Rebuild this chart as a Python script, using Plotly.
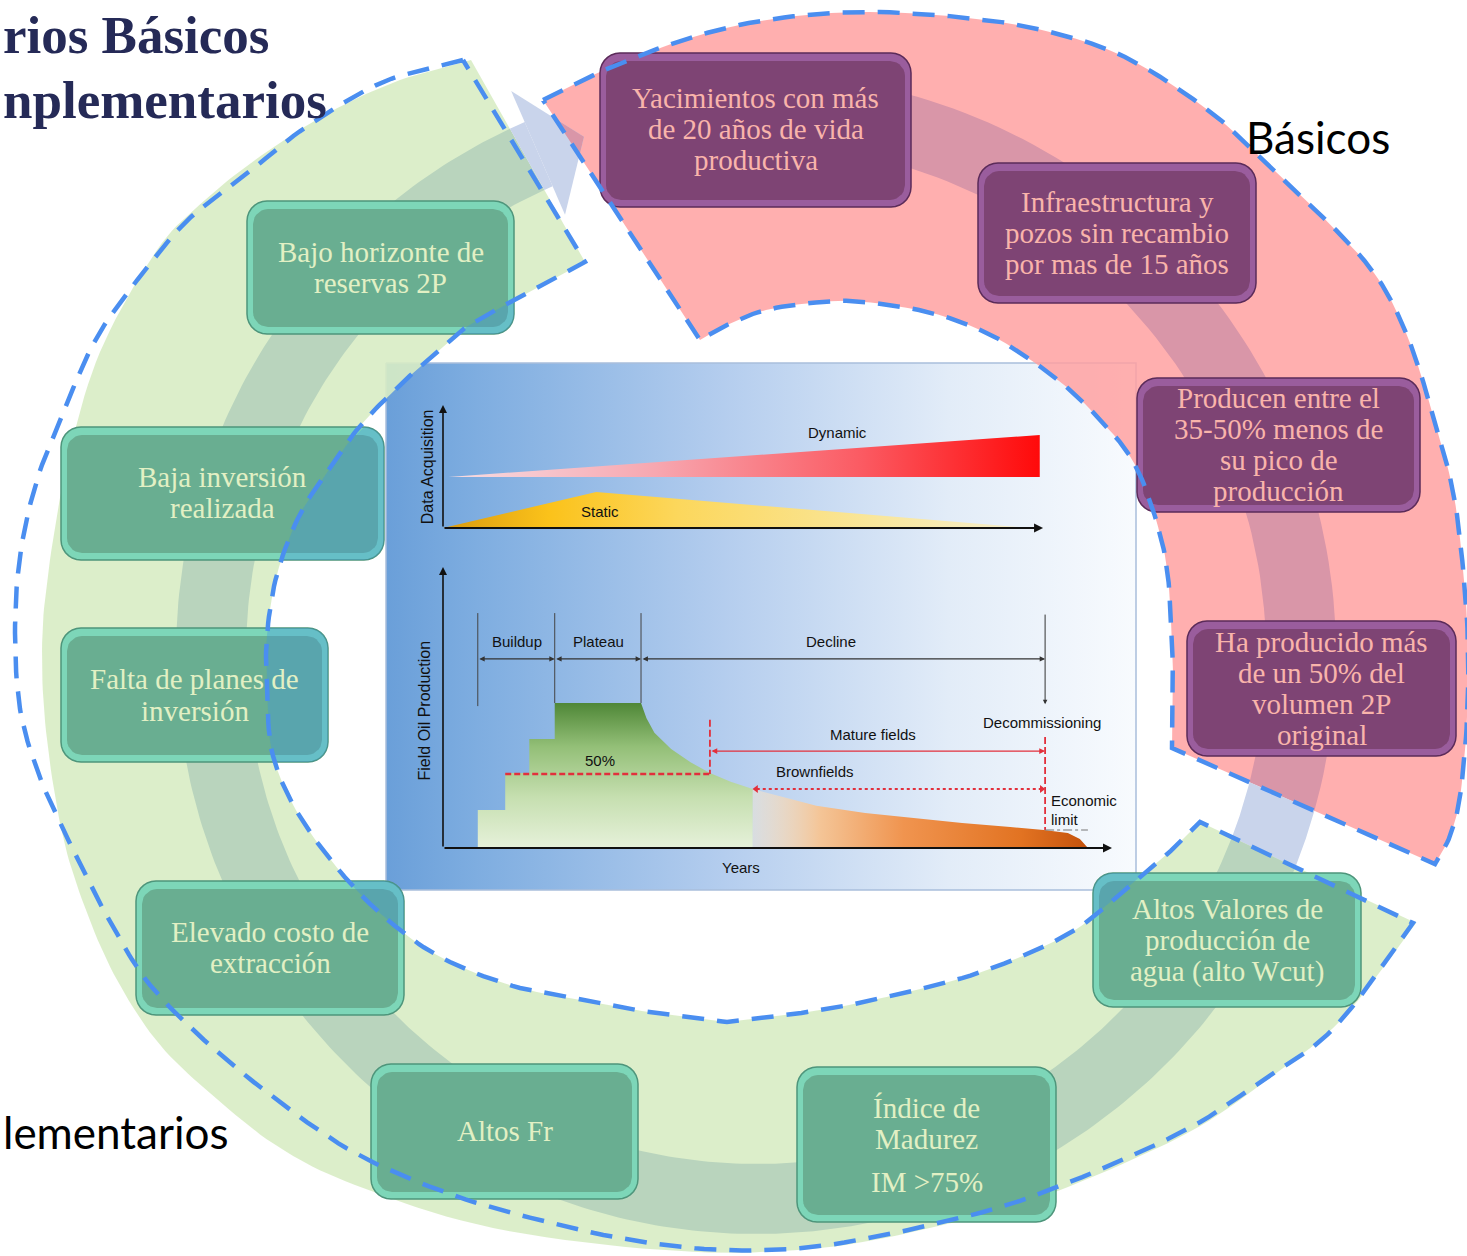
import numpy as np
import plotly.graph_objects as go

W, H = 1467, 1256

# ======================= DATA =======================
# visible parts of the title and group labels (the slide crops them at the left edge)
title_lines = ["rios Básicos", "nplementarios"]
group_labels = ["Básicos", "lementarios"]

basic_texts = [
    ["Yacimientos con más", "de 20 años de vida", "productiva"],
    ["Infraestructura y", "pozos sin recambio", "por mas de 15 años"],
    ["Producen entre el", "35-50% menos de", "su pico de", "producción"],
    ["Ha producido más", "de un 50% del", "volumen 2P", "original"],
]
comp_texts = [
    ["Bajo horizonte de", "reservas 2P"],
    ["Baja inversión", "realizada"],
    ["Falta de planes de", "inversión"],
    ["Elevado costo de", "extracción"],
    ["Altos Fr"],
    ["Índice de", "Madurez", "IM >75%"],
    ["Altos Valores de", "producción de", "agua (alto Wcut)"],
]

# inner chart - field life (0-100 along "Years") vs production (0-100 of axis)
green_years = [5.2, 5.2, 9.3, 9.3, 12.9, 12.9, 16.7, 16.7, 29.6, 30.0, 30.4, 31.6,
               34.1, 37.0, 39.9, 43.0, 46.3, 46.3]
green_rate = [0, 13.5, 13.5, 26.7, 26.7, 38.8, 38.8, 51.6, 51.6, 49.0, 46.3, 41.0,
              35.2, 30.5, 26.7, 23.6, 21.0, 0]
brown_years = [46.3, 50.7, 55.8, 63.1, 70.3, 77.6, 84.8, 89.8, 93.4, 95.2, 96.4]
brown_rate = [21.0, 18.2, 15.0, 12.5, 10.7, 8.9, 7.5, 6.4, 5.3, 3.2, 0]
static_years = [0, 22.9, 87.7]
static_level = [0, 29.3, 0]
dynamic_years = [0.8, 89.2]
dynamic_top = [41.5, 75.6]
dynamic_base = 41.5
phase_bounds = [5.2, 16.7, 29.6, 90.0]
phase_names = ["Buildup", "Plateau", "Decline"]
half_peak_rate = 26.3
mature_start, brown_start, decom_year = 39.9, 46.3, 90.0
econ_limit_rate = 6.4

# ======================= GEOMETRY (layout only) =======================
def catmull(pts, n=10):
    P = np.array(pts, float)
    P = np.vstack([P[0], P, P[-1]])
    out = []
    for i in range(1, len(P) - 2):
        p0, p1, p2, p3 = P[i - 1], P[i], P[i + 1], P[i + 2]
        for t in np.linspace(0, 1, n, endpoint=False):
            t2, t3 = t * t, t * t * t
            out.append(0.5 * ((2 * p1) + (-p0 + p2) * t + (2 * p0 - 5 * p1 + 4 * p2 - p3) * t2
                              + (-p0 + 3 * p1 - 3 * p2 + p3) * t3))
    out.append(P[-2])
    return [tuple(p) for p in out]

pink_outer = [(543, 100), (600, 72), (683, 40), (766, 20), (860, 12), (959, 17), (1042, 30),
              (1125, 57), (1208, 110), (1263, 160), (1319, 213), (1374, 273), (1407, 335),
              (1433, 415), (1453, 491), (1463, 568), (1468, 644), (1467, 721), (1460, 797),
              (1450, 836), (1435, 864)]
pink_inner = [(1172, 748), (1173, 690), (1172, 644), (1167, 568), (1153, 510), (1133, 461),
              (1105, 425), (1070, 390), (1031, 360), (987, 333), (932, 313), (865, 302),
              (821, 302), (766, 310), (727, 325), (700, 340)]
green_fill_outer = [(471, 60), (400, 80), (330, 112), (262, 155), (205, 200), (157, 250),
                    (100, 352), (67, 464), (47, 582), (42, 658), (47, 740), (63, 837), (87, 913),
                    (117, 980), (160, 1045), (218, 1100), (280, 1148), (355, 1185), (493, 1228),
                    (677, 1251), (821, 1248), (943, 1225), (1042, 1197), (1180, 1137),
                    (1263, 1083), (1341, 1020), (1416, 923)]
green_dash_outer = [(463, 60), (383, 82), (306, 127), (249, 172), (191, 217), (153, 260),
                    (100, 332), (67, 403), (37, 480), (20, 556), (15, 633), (20, 709), (37, 770),
                    (57, 816), (87, 878), (117, 934), (150, 985), (204, 1040), (277, 1100),
                    (355, 1153), (447, 1193), (539, 1220), (631, 1240), (723, 1250), (821, 1246),
                    (943, 1222), (1042, 1193), (1180, 1133), (1263, 1080), (1335, 1027),
                    (1413, 923)]
green_inner_a = [(1200, 822), (1175, 847), (1125, 890), (1070, 933), (987, 970), (904, 993),
                 (821, 1010), (727, 1022)]
green_inner_b = [(727, 1022), (655, 1013), (600, 1003), (520, 988), (450, 962), (400, 930),
                 (350, 883), (300, 817), (273, 756), (267, 690), (267, 635), (277, 574),
                 (300, 514), (330, 468), (360, 426), (400, 385), (450, 341), (478, 320),
                 (585, 262)]

pink_poly = catmull(pink_outer) + catmull(pink_inner)
green_inner = catmull(green_inner_a) + catmull(green_inner_b)[1:]
green_poly = catmull(green_fill_outer) + green_inner
green_dash = catmull(green_dash_outer) + green_inner

# band (circular arrow)
BC = np.array([756.0, 654.0])
R_OUT, R_IN = 580.0, 510.0

def circ(R, th):
    t = np.radians(th)
    return BC + R * np.array([np.cos(t), np.sin(t)])

def cross_theta(R, A, B, lo, hi):
    A = np.array(A, float); B = np.array(B, float)
    def f(th):
        p = circ(R, th)
        return (B[0] - A[0]) * (p[1] - A[1]) - (B[1] - A[1]) * (p[0] - A[0])
    flo = f(lo)
    for _ in range(60):
        mid = 0.5 * (lo + hi)
        fm = f(mid)
        if np.sign(fm) == np.sign(flo):
            lo, flo = mid, fm
        else:
            hi = mid
    return 0.5 * (lo + hi)

def band_piece(to0, to1, ti0, ti1, n=90):
    outer = [tuple(circ(R_OUT, t)) for t in np.linspace(to0, to1, n)]
    inner = [tuple(circ(R_IN, t)) for t in np.linspace(ti1, ti0, n)]
    return outer + inner

pink_end = ((1435, 864), (1172, 748))
green_start = ((1413, 923), (1200, 822))
green_end = ((471, 60), (585, 262))
pink_start = ((543, 100), (700, 340))
TAIL, BASE, TIP = -95.0, 246.5, 251.6

po = cross_theta(R_OUT, *pink_end, 0, 30); pi_ = cross_theta(R_IN, *pink_end, 0, 30)
go_ = cross_theta(R_OUT, *green_start, 5, 40); gi = cross_theta(R_IN, *green_start, 5, 40)
eo = cross_theta(R_OUT, *green_end, 225, 260); ei = cross_theta(R_IN, *green_end, 225, 260)

# ======================= HELPERS =======================
def clip_poly(subject, clip):
    def area(p):
        return sum(p[i][0] * p[(i + 1) % len(p)][1] - p[(i + 1) % len(p)][0] * p[i][1]
                   for i in range(len(p)))
    sgn = 1 if area(clip) > 0 else -1
    def inside(p, a, b):
        return sgn * ((b[0] - a[0]) * (p[1] - a[1]) - (b[1] - a[1]) * (p[0] - a[0])) >= 0
    def inter(p, q, a, b):
        x1, y1 = p; x2, y2 = q; x3, y3 = a; x4, y4 = b
        den = (x1 - x2) * (y3 - y4) - (y1 - y2) * (x3 - x4)
        t = ((x1 - x3) * (y3 - y4) - (y1 - y3) * (x3 - x4)) / den
        return (x1 + t * (x2 - x1), y1 + t * (y2 - y1))
    out = list(subject)
    for i in range(len(clip)):
        a, b = clip[i], clip[(i + 1) % len(clip)]
        if a == b:
            continue
        inp, out = out, []
        if not inp:
            break
        s = inp[-1]
        for e in inp:
            if inside(e, a, b):
                if not inside(s, a, b):
                    out.append(inter(s, e, a, b))
                out.append(e)
            elif inside(s, a, b):
                out.append(inter(s, e, a, b))
            s = e
    return out

def rrect(x0, y0, x1, y1, r, n=8):
    pts = []
    for cx, cy, a0, a1 in [(x1 - r, y0 + r, -90, 0), (x1 - r, y1 - r, 0, 90),
                           (x0 + r, y1 - r, 90, 180), (x0 + r, y0 + r, 180, 270)]:
        for a in np.radians(np.linspace(a0, a1, n)):
            pts.append((cx + r * np.cos(a), cy + r * np.sin(a)))
    return pts

fig = go.Figure()

def poly(pts, fill=None, line=None, lw=0, dash=None, **kw):
    x = [p[0] for p in pts] + [pts[0][0]]
    y = [p[1] for p in pts] + [pts[0][1]]
    fig.add_trace(go.Scatter(
        x=x, y=y, mode="lines", fill="toself" if (fill or kw.get("fillgradient")) else "none",
        fillcolor=fill, line=dict(color=line or "rgba(0,0,0,0)", width=lw, dash=dash),
        hoverinfo="skip", showlegend=False, **kw))

# ======================= DRAWING =======================
CH = (386, 363, 1136, 890)
poly([(CH[0], CH[1]), (CH[2], CH[1]), (CH[2], CH[3]), (CH[0], CH[3])],
     line="#a9bedb", lw=1.5,
     fillgradient=dict(type="horizontal",
                       colorscale=[[0, "#6a9fd9"], [0.12, "#7eade0"], [0.45, "#b4cdee"],
                                   [0.75, "#e2ecf8"], [1, "#f8fbfe"]]))

poly(green_poly, fill="rgba(216,236,196,0.9)")
poly(pink_poly, fill="rgba(255,160,160,0.84)")

BAND_PINK, BAND_GAP, BAND_GREEN = "#d996a8", "#c9d4eb", "#b9d4bd"
poly(band_piece(TAIL, po, TAIL, pi_), fill=BAND_PINK)
poly(band_piece(po, go_, pi_, gi), fill=BAND_GAP)
poly(band_piece(go_, eo, gi, ei, n=300), fill=BAND_GREEN)
poly(band_piece(eo, BASE, ei, BASE, n=10), fill=BAND_GAP)
arrow = [tuple(circ(614, BASE)), tuple(circ(545, TIP)), tuple(circ(479, BASE))]
poly(arrow, fill=BAND_GAP)
(ax_, ay_), (bx_, by_) = pink_start
dxp, dyp = bx_ - ax_, by_ - ay_
half_plane = [(ax_ - 3 * dxp, ay_ - 3 * dyp), (3000, -3000), (3000, 3000), (bx_ + 3 * dxp, by_ + 3 * dyp)]
arrow_pink = clip_poly(arrow, half_plane)
if len(arrow_pink) >= 3:
    poly(arrow_pink, fill=BAND_PINK)

basic_layout = [
    dict(x0=600, y0=53, x1=911, y1=207, ly=[98, 129, 160]),
    dict(x0=978, y0=163, x1=1256, y1=303, ly=[202, 233, 264]),
    dict(x0=1137, y0=378, x1=1420, y1=512, ly=[398, 429, 460, 491]),
    dict(x0=1187, y0=621, x1=1456, y1=756, ly=[642, 673, 704, 735]),
]
comp_layout = [
    dict(x0=247, y0=201, x1=514, y1=334, ly=[252, 283]),
    dict(x0=61, y0=427, x1=384, y1=560, ly=[477, 508]),
    dict(x0=61, y0=628, x1=328, y1=762, ly=[679, 711]),
    dict(x0=136, y0=881, x1=404, y1=1015, ly=[932, 963]),
    dict(x0=371, y0=1064, x1=638, y1=1199, ly=[1131]),
    dict(x0=797, y0=1067, x1=1056, y1=1222, ly=[1108, 1139, 1182]),
    dict(x0=1093, y0=873, x1=1361, y1=1007, ly=[909, 940, 971]),
]

interior = green_inner + [(900, 230), (1150, 350), (1250, 600)]

annotations = []

def draw_box(b, border, bevel, main, tint=False):
    outer = rrect(b["x0"], b["y0"], b["x1"], b["y1"], 20)
    poly(outer, fill=bevel, line=border, lw=1.5)
    poly(rrect(b["x0"] + 6, b["y0"] + 8, b["x1"] - 6, b["y1"] - 7, 15), fill=main)
    if tint:
        part = clip_poly(outer, interior)
        if len(part) >= 3:
            poly(part, fill="rgba(60,150,225,0.35)")

for b, lines in zip(basic_layout, basic_texts):
    draw_box(b, "#5b2b59", "#9a5d9d", "#7e4474")
    for t, yy in zip(lines, b["ly"]):
        annotations.append(dict(x=(b["x0"] + b["x1"]) / 2, y=yy, text=t, showarrow=False,
                                xref="x", yref="y", xanchor="center", yanchor="middle",
                                font=dict(family="Liberation Serif, serif", size=29, color="#f9b4ab")))
for b, lines in zip(comp_layout, comp_texts):
    draw_box(b, "#4e957b", "#7dd6b8", "#69ae91", tint=True)
    for t, yy in zip(lines, b["ly"]):
        annotations.append(dict(x=(b["x0"] + b["x1"]) / 2, y=yy, text=t, showarrow=False,
                                xref="x", yref="y", xanchor="center", yanchor="middle",
                                font=dict(family="Liberation Serif, serif", size=29, color="#e2f0c4")))

DASH = dict(line="#4a8ef0", lw=4.5, dash="22px,13px")
poly(green_dash, **DASH)
poly(pink_poly, **DASH)

annotations += [
    dict(x=1, y=35, text=title_lines[0], xanchor="left", yanchor="middle",
         font=dict(family="Liberation Serif, serif", size=53, color="#252a57", weight="bold")),
    dict(x=1, y=100, text=title_lines[1], xanchor="left", yanchor="middle",
         font=dict(family="Liberation Serif, serif", size=53, color="#252a57", weight="bold")),
    dict(x=1318, y=137, text=group_labels[0], xanchor="center", yanchor="middle",
         font=dict(family="Lato, sans-serif", size=44, color="#000000")),
    dict(x=1, y=1132, text=group_labels[1], xanchor="left", yanchor="middle",
         font=dict(family="Lato, sans-serif", size=44, color="#000000")),
]
for a in annotations[-4:]:
    a.update(showarrow=False, xref="x", yref="y")

# ---------------- inner chart: production profile (x2/y2) ----------------
fig.add_trace(go.Scatter(
    x=green_years, y=green_rate, xaxis="x2", yaxis="y2", mode="lines", fill="toself",
    line=dict(width=0, color="rgba(0,0,0,0)"), hoverinfo="skip", showlegend=False,
    fillgradient=dict(type="vertical", start=0, stop=max(green_rate),
                      colorscale=[[0, "#e6f1da"], [0.35, "#c6dfb0"], [0.7, "#93bf77"], [1, "#4f8737"]])))
fig.add_trace(go.Scatter(
    x=brown_years, y=brown_rate, xaxis="x2", yaxis="y2", mode="lines", fill="tozeroy",
    line=dict(width=0, color="rgba(0,0,0,0)"), hoverinfo="skip", showlegend=False,
    fillgradient=dict(type="horizontal", start=brown_years[0], stop=brown_years[-1],
                      colorscale=[[0, "rgba(246,232,210,0.5)"], [0.2, "#f4c597"], [0.45, "#f0944f"],
                                  [0.8, "#e27322"], [1, "#c4520c"]])))

top_marker = 83.6
phase_bottom = [50.5, 51.6, 51.6]
vx, vy = [], []
for xb, yb in zip(phase_bounds[:3], phase_bottom):
    vx += [xb, xb, None]; vy += [top_marker, yb, None]
fig.add_trace(go.Scatter(x=vx, y=vy, xaxis="x2", yaxis="y2", mode="lines",
                         line=dict(color="#444", width=1), hoverinfo="skip", showlegend=False))

RED = "#e2303c"
fig.add_trace(go.Scatter(x=[green_years[2], mature_start], y=[half_peak_rate, half_peak_rate],
                         xaxis="x2", yaxis="y2", mode="lines",
                         line=dict(color=RED, width=2.5, dash="6px,3px"), hoverinfo="skip", showlegend=False))
fig.add_trace(go.Scatter(x=[mature_start, mature_start, None, decom_year, decom_year],
                         y=[45.6, half_peak_rate, None, 39.5, econ_limit_rate],
                         xaxis="x2", yaxis="y2", mode="lines",
                         line=dict(color=RED, width=1.8, dash="7px,3px"), hoverinfo="skip", showlegend=False))
fig.add_trace(go.Scatter(x=[brown_start + 0.6, decom_year - 0.6], y=[21.0, 21.0], xaxis="x2", yaxis="y2",
                         mode="lines", line=dict(color=RED, width=1.8, dash="dot"),
                         hoverinfo="skip", showlegend=False))
fig.add_trace(go.Scatter(x=[brown_start + 0.5, decom_year - 0.5], y=[21.0, 21.0], xaxis="x2", yaxis="y2",
                         mode="markers", marker=dict(symbol=["triangle-left", "triangle-right"],
                                                     size=7, color=RED),
                         hoverinfo="skip", showlegend=False))
fig.add_trace(go.Scatter(x=[decom_year, brown_years[-1]], y=[econ_limit_rate, econ_limit_rate],
                         xaxis="x2", yaxis="y2", mode="lines",
                         line=dict(color="#777", width=1.2, dash="dashdot"), hoverinfo="skip", showlegend=False))

# ---------------- inner chart: data acquisition (x3/y3) ----------------
fig.add_trace(go.Scatter(
    x=static_years + [static_years[0]], y=static_level + [static_level[0]], xaxis="x3", yaxis="y3",
    mode="lines", fill="toself", line=dict(width=0, color="rgba(0,0,0,0)"), hoverinfo="skip",
    showlegend=False,
    fillgradient=dict(type="horizontal", start=0, stop=static_years[-1],
                      colorscale=[[0, "#d99a10"], [0.18, "#fbc21a"], [0.4, "#fcd75c"],
                                  [0.75, "#f9e79e"], [1, "#f6efd0"]])))
fig.add_trace(go.Scatter(
    x=[dynamic_years[0], dynamic_years[1], dynamic_years[1], dynamic_years[0]],
    y=[dynamic_top[0], dynamic_top[1], dynamic_base, dynamic_base], xaxis="x3", yaxis="y3",
    mode="lines", fill="toself", line=dict(width=0, color="rgba(0,0,0,0)"), hoverinfo="skip",
    showlegend=False,
    fillgradient=dict(type="horizontal", start=dynamic_years[0], stop=dynamic_years[1],
                      colorscale=[[0, "#f7dde3"], [0.35, "#f7a7b0"], [0.7, "#fb5a62"], [1, "#ff0a0a"]])))

def arrow_ann(x0, y0, x1, y1, xr, yr, color="#111", width=1.3, both=False, head=2, size=1.0):
    return dict(x=x1, y=y1, ax=x0, ay=y0, xref=xr, yref=yr, axref=xr, ayref=yr, text="",
                showarrow=True, arrowhead=head, arrowsize=size, arrowwidth=width, arrowcolor=color,
                arrowside="end+start" if both else "end", startarrowhead=head, startarrowsize=size,
                standoff=0, startstandoff=0)

annotations += [
    arrow_ann(0, 0, 0, 100, "x2", "y2", width=1.6),
    arrow_ann(0, 0, 100, 0, "x2", "y2", width=1.8),
    arrow_ann(0, 0, 0, 100, "x3", "y3", width=1.6),
    arrow_ann(0, 0, 89.7, 0, "x3", "y3", width=1.8),
]
for i in range(3):
    annotations.append(arrow_ann(phase_bounds[i], 67.3, phase_bounds[i + 1], 67.3, "x2", "y2",
                                 color="#333", width=1.2, both=True, size=0.9))
annotations.append(arrow_ann(decom_year, top_marker, decom_year, 51.2, "x2", "y2", color="#333",
                             width=1, size=0.9))
annotations.append(arrow_ann(mature_start, 34.5, decom_year, 34.5, "x2", "y2", color=RED,
                             width=1.3, both=True, size=0.9))

LBL = "Liberation Sans Narrow, Arial Narrow, Liberation Sans, sans-serif"
def lbl(x, y, t, xr="x2", yr="y2", size=15, xa="center", angle=0, fam=LBL):
    return dict(x=x, y=y, text=t, xref=xr, yref=yr, showarrow=False, xanchor=xa, yanchor="middle",
                textangle=angle, font=dict(family=fam, size=size, color="#111"))

annotations += [
    lbl(11.0, 73.5, phase_names[0]), lbl(23.2, 73.5, phase_names[1]), lbl(58.0, 73.5, phase_names[2]),
    lbl(64.3, 40.3, "Mature fields"), lbl(55.6, 27.4, "Brownfields"), lbl(23.5, 31.2, "50%"),
    lbl(89.5, 44.8, "Decommissioning"), lbl(90.6, 16.8, "Economic", xa="left"),
    lbl(90.6, 10.3, "limit", xa="left"), lbl(44.5, -6.8, "Years"),
    lbl(-2.75, 48.8, "Field Oil Production", angle=-90, size=16, fam="Liberation Sans, sans-serif"),
    lbl(59.0, 77.5, "Dynamic", "x3", "y3"), lbl(23.5, 13.4, "Static", "x3", "y3"),
    lbl(-2.2, 49.6, "Data Acquisition", "x3", "y3", angle=-90, size=16, fam="Liberation Sans, sans-serif"),
]

# axis mapping of the inner chart: x 0..100 -> px 443..1112 ; y2 0..100 -> px 848..567
PX_PER_X = (1112 - 443) / 100
PX_PER_Y2 = (848 - 567) / 100
x_lo, x_hi = (CH[0] - 443) / PX_PER_X, (CH[2] - 443) / PX_PER_X
y2_lo = (848 - CH[3]) / PX_PER_Y2
chart_dom_x = [CH[0] / W, CH[2] / W]

fig.update_layout(
    width=W, height=H, margin=dict(l=0, r=0, t=0, b=0),
    paper_bgcolor="white", plot_bgcolor="rgba(0,0,0,0)", showlegend=False,
    xaxis=dict(range=[0, W], visible=False, domain=[0, 1], fixedrange=True),
    yaxis=dict(range=[H, 0], visible=False, domain=[0, 1], fixedrange=True),
    xaxis2=dict(range=[x_lo, x_hi], domain=chart_dom_x, visible=False, anchor="y2", fixedrange=True),
    yaxis2=dict(range=[y2_lo, 100], domain=[1 - CH[3] / H, 1 - 567 / H], visible=False, anchor="x2",
                fixedrange=True),
    xaxis3=dict(range=[x_lo, x_hi], domain=chart_dom_x, visible=False, anchor="y3", fixedrange=True),
    yaxis3=dict(range=[0, 100], domain=[1 - 528 / H, 1 - 405 / H], visible=False, anchor="x3",
                fixedrange=True),
    annotations=annotations,
)

fig.write_html("out.html")
